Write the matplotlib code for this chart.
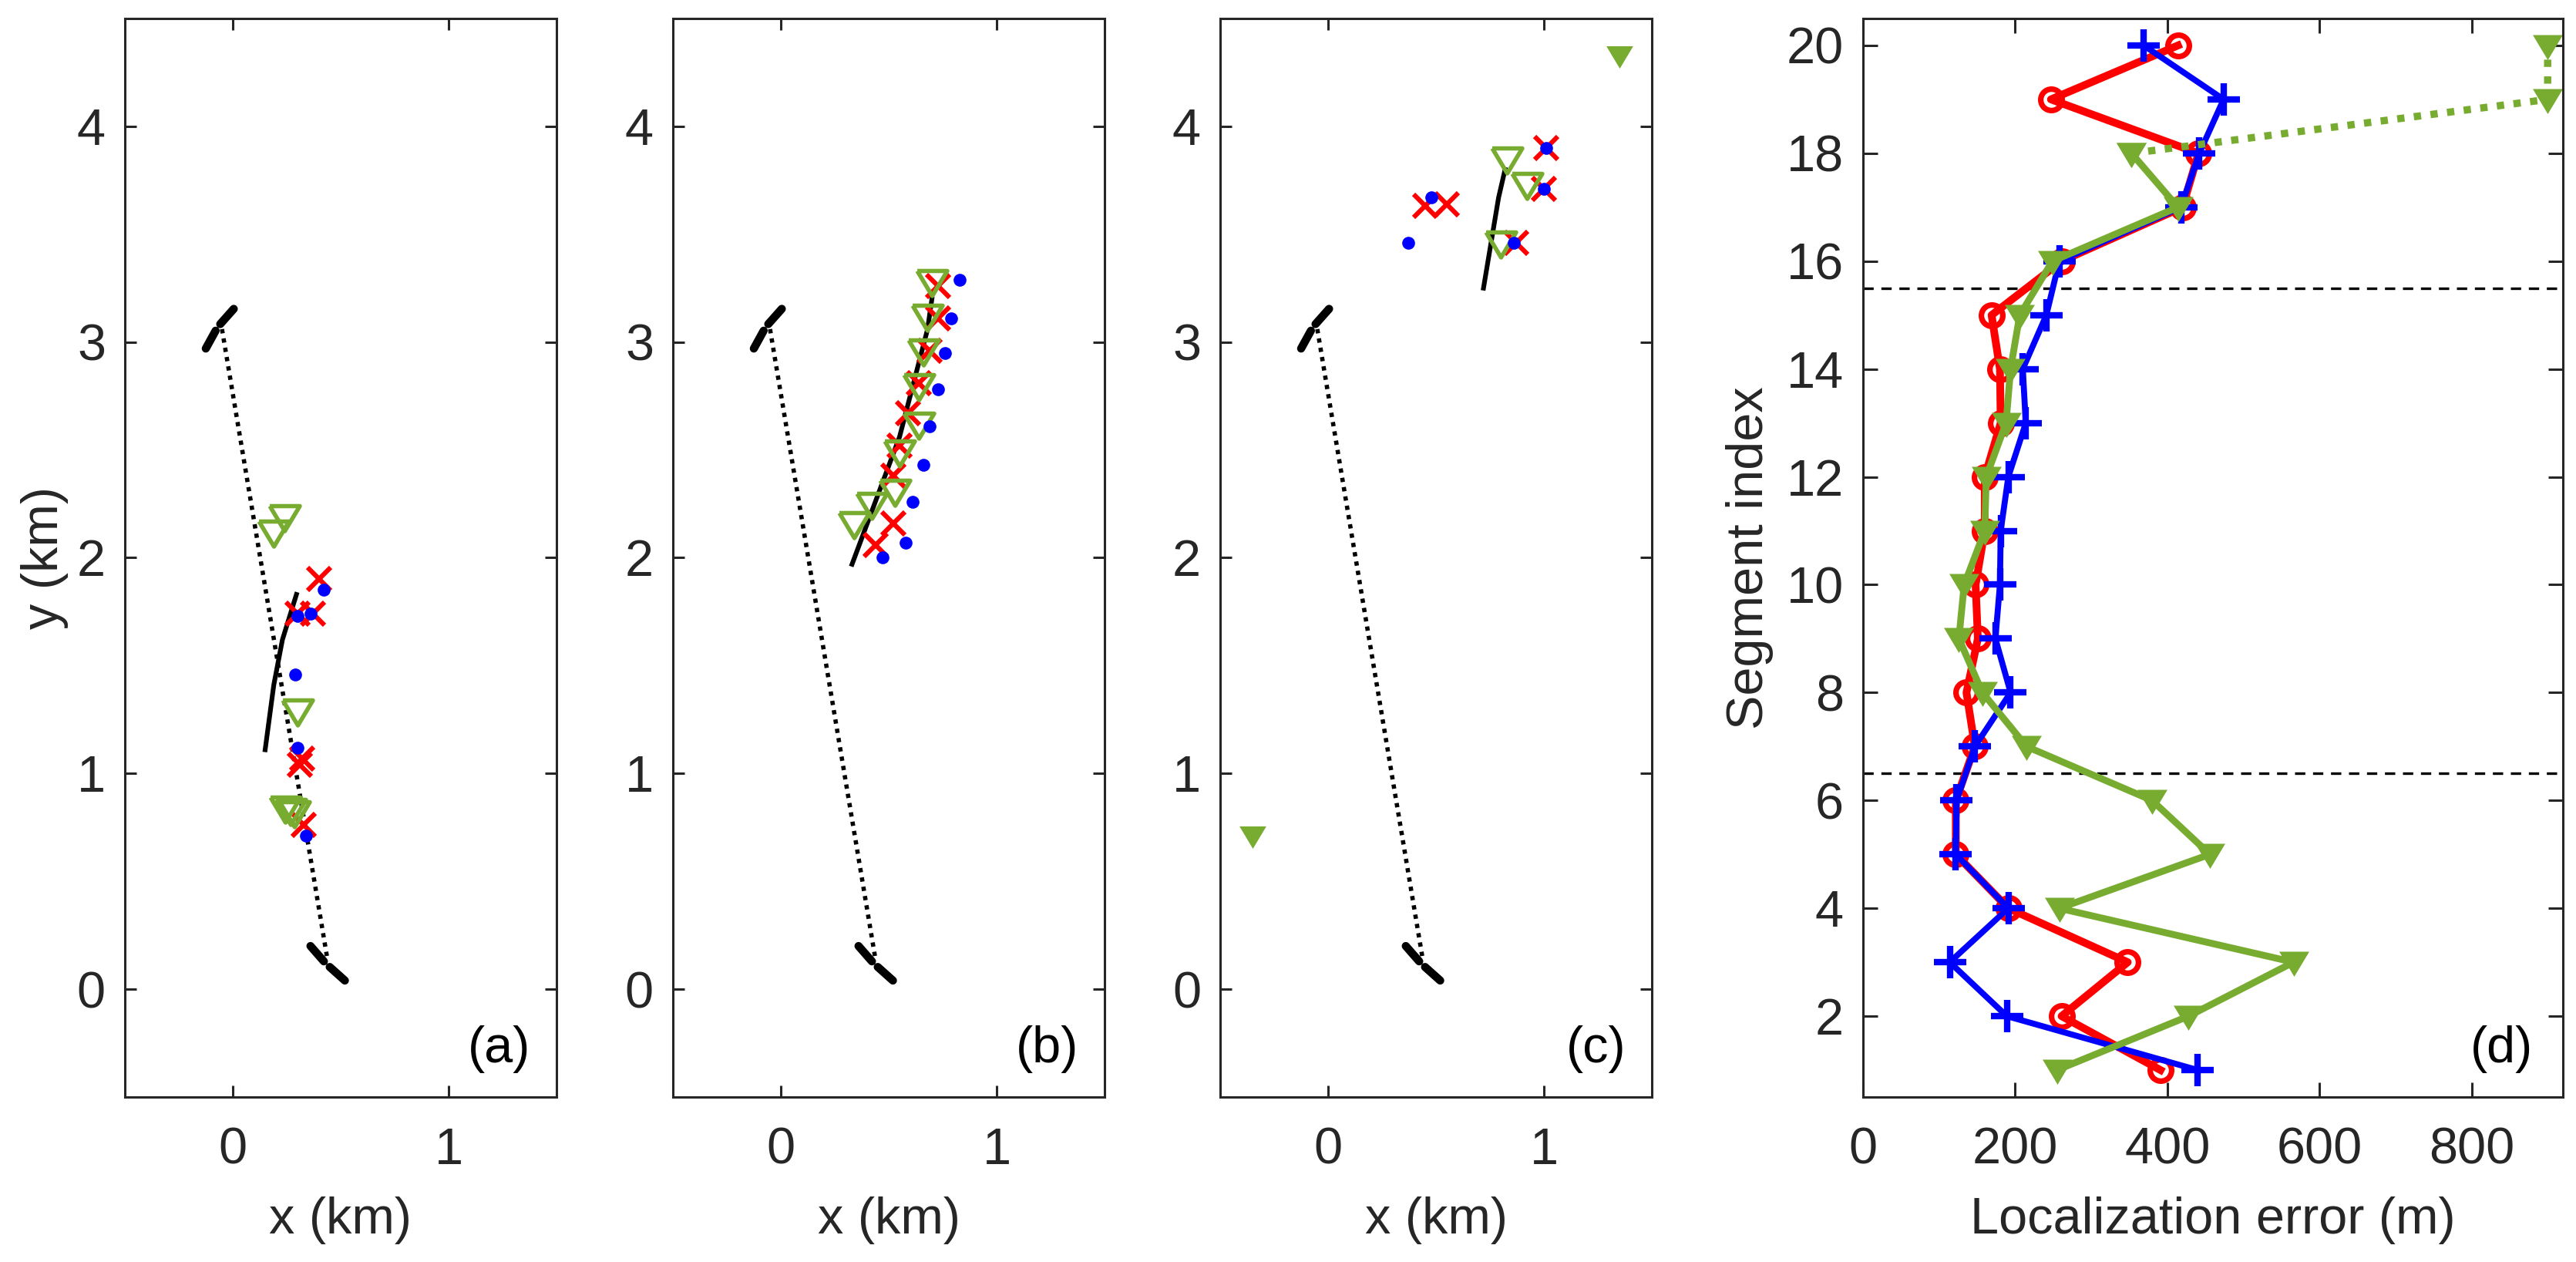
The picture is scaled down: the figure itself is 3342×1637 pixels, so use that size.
import numpy as np
import matplotlib
matplotlib.use("Agg")
import matplotlib.pyplot as plt

plt.rcParams['font.family'] = ['Liberation Sans', 'DejaVu Sans']
plt.rcParams['font.size'] = 24

RED = (1, 0, 0)
BLUE = (0, 0, 1)
GREEN = (0.466, 0.674, 0.188)
AX = '#262626'

# common track (same in panels a-c)
track_x = [-0.05, 0.44]
track_y = [3.06, 0.13]
top_end_x = [-0.125, -0.07, 0.01]
top_end_y = [2.97, 3.07, 3.16]
bot_end_x = [0.36, 0.43, 0.525]
bot_end_y = [0.20, 0.12, 0.035]

# panel (a)
a_line_x = [0.15, 0.19, 0.23, 0.295]
a_line_y = [1.11, 1.41, 1.62, 1.83]
a_blue_x = [0.42, 0.30, 0.36, 0.29, 0.30, 0.34]
a_blue_y = [1.85, 1.73, 1.74, 1.46, 1.12, 0.71]
a_red_x = [0.40, 0.30, 0.37, 0.32, 0.31, 0.33]
a_red_y = [1.90, 1.74, 1.74, 1.07, 1.04, 0.76]
a_green_x = [0.24, 0.19, 0.30, 0.243, 0.268, 0.286]
a_green_y = [2.19, 2.12, 1.29, 0.84, 0.83, 0.82]

# panel (b)
b_line_x = [0.33, 0.55, 0.68, 0.70]
b_line_y = [1.97, 2.56, 3.06, 3.20]
b_blue_x = [0.83, 0.79, 0.76, 0.73, 0.69, 0.66, 0.61, 0.58, 0.47]
b_blue_y = [3.29, 3.11, 2.95, 2.78, 2.61, 2.43, 2.26, 2.07, 2.00]
b_red_x = [0.73, 0.73, 0.69, 0.64, 0.59, 0.55, 0.52, 0.52, 0.44]
b_red_y = [3.26, 3.11, 2.96, 2.81, 2.67, 2.52, 2.38, 2.16, 2.06]
b_green_x = [0.70, 0.68, 0.66, 0.64, 0.64, 0.55, 0.53, 0.42, 0.34]
b_green_y = [3.28, 3.12, 2.96, 2.80, 2.62, 2.49, 2.31, 2.25, 2.16]

# panel (c)
c_line_x = [0.72, 0.79, 0.82]
c_line_y = [3.25, 3.67, 3.80]
c_blue_x = [1.01, 1.00, 0.86, 0.48, 0.37]
c_blue_y = [3.90, 3.71, 3.46, 3.67, 3.46]
c_red_x = [1.01, 1.00, 0.87, 0.45, 0.55]
c_red_y = [3.90, 3.71, 3.46, 3.63, 3.64]
c_green_x = [0.83, 0.92, 0.80]
c_green_y = [3.85, 3.73, 3.46]
c_out_x = [1.35, -0.35]
c_out_y = [4.33, 0.71]

# panel (d)
seg = np.arange(1, 21)
err_red = [391, 261, 348, 191, 122, 122, 147, 136, 151, 148,
           160, 160, 181, 180, 169, 261, 420, 441, 247, 414]
err_blue = [440, 189, 114, 191, 122, 123, 147, 194, 174, 180,
            181, 191, 214, 210, 241, 258, 418, 442, 474, 369]
err_green = [255, 428, 566, 258, 456, 380, 215, 157, 126, 133,
             160, 162, 188, 194, 206, 249, 414, 353, 900, 900]
boundaries = [6.5, 15.5]

tri = [(-1, 0.72), (1, 0.72), (0, -0.95), (-1, 0.72)]

fig = plt.figure(figsize=(16.71, 8.185), dpi=200)


def style_axes(ax, ticklen):
    for s in ax.spines.values():
        s.set_color(AX)
        s.set_linewidth(1.1)
    ax.tick_params(direction='in', length=ticklen, width=1.1, colors=AX,
                   top=True, right=True, labelsize=24)
    ax.tick_params(axis='x', pad=14)
    ax.tick_params(axis='y', pad=9)


def map_panel(ax, lx, ly, rx, ry, gx, gy, bx, by, label):
    ax.plot(track_x, track_y, color='k', lw=2.0, dashes=(1, 1.2))
    ax.plot(top_end_x, top_end_y, color='k', lw=3.8, dashes=(2.5, 1.0),
            dash_capstyle='round')
    ax.plot(bot_end_x, bot_end_y, color='k', lw=3.8, dashes=(2.5, 1.0),
            dash_capstyle='round')
    ax.plot(lx, ly, color='k', lw=2.2)
    ax.plot(rx, ry, ls='none', marker='x', ms=11, mew=2.2, color=RED)
    ax.plot(gx, gy, ls='none', marker=tri, ms=14, mew=2.0, mfc='none',
            mec=GREEN)
    ax.plot(bx, by, ls='none', marker='o', ms=6, mew=0, color=BLUE)
    ax.set_xlim(-0.5, 1.5)
    ax.set_ylim(-0.5, 4.5)
    ax.set_xticks([0, 1])
    ax.set_yticks([0, 1, 2, 3, 4])
    ax.set_xlabel('x (km)', labelpad=10, color=AX)
    ax.text(0.94, 0.022, label, transform=ax.transAxes, ha='right',
            va='bottom', color='k')
    style_axes(ax, 5.5)


ax_a = fig.add_axes([0.04847, 0.13073, 0.16757, 0.85461])
ax_b = fig.add_axes([0.26122, 0.13073, 0.16757, 0.85461])
ax_c = fig.add_axes([0.47367, 0.13073, 0.16757, 0.85461])
ax_d = fig.add_axes([0.72322, 0.13073, 0.27169, 0.85461])

map_panel(ax_a, a_line_x, a_line_y, a_red_x, a_red_y, a_green_x, a_green_y,
          a_blue_x, a_blue_y, '(a)')
map_panel(ax_b, b_line_x, b_line_y, b_red_x, b_red_y, b_green_x, b_green_y,
          b_blue_x, b_blue_y, '(b)')
map_panel(ax_c, c_line_x, c_line_y, c_red_x, c_red_y, c_green_x, c_green_y,
          c_blue_x, c_blue_y, '(c)')
ax_c.plot(c_out_x, c_out_y, ls='none', marker=tri, ms=12.5, mew=0,
          color=GREEN)
ax_a.set_ylabel('y (km)', labelpad=4, color=AX)

# panel (d)
for b in boundaries:
    ax_d.axhline(b, color='k', lw=1.2, dashes=(4, 3))
ax_d.plot(err_red, seg, color=RED, lw=3.6, marker='o', ms=10, mew=2.6,
          mfc='none')
ax_d.plot(err_blue, seg, color=BLUE, lw=2.8, marker='+', ms=15, mew=3.0)
ax_d.plot(err_green[:18], seg[:18], color=GREEN, lw=3.2, marker=tri, ms=14,
          mew=0)
ax_d.plot(err_green[17:], seg[17:], color=GREEN, lw=3.4, dashes=(1, 1.3),
          marker=tri, ms=14, mew=0)
ax_d.set_xlim(0, 920)
ax_d.set_ylim(0.5, 20.5)
ax_d.set_xticks([0, 200, 400, 600, 800])
ax_d.set_yticks(np.arange(2, 21, 2))
ax_d.set_xlabel('Localization error (m)', labelpad=10, color=AX)
ax_d.set_ylabel('Segment index', labelpad=6, color=AX)
ax_d.text(0.957, 0.022, '(d)', transform=ax_d.transAxes, ha='right',
          va='bottom', color='k')
style_axes(ax_d, 7)

fig.savefig('out.png', dpi=200)
